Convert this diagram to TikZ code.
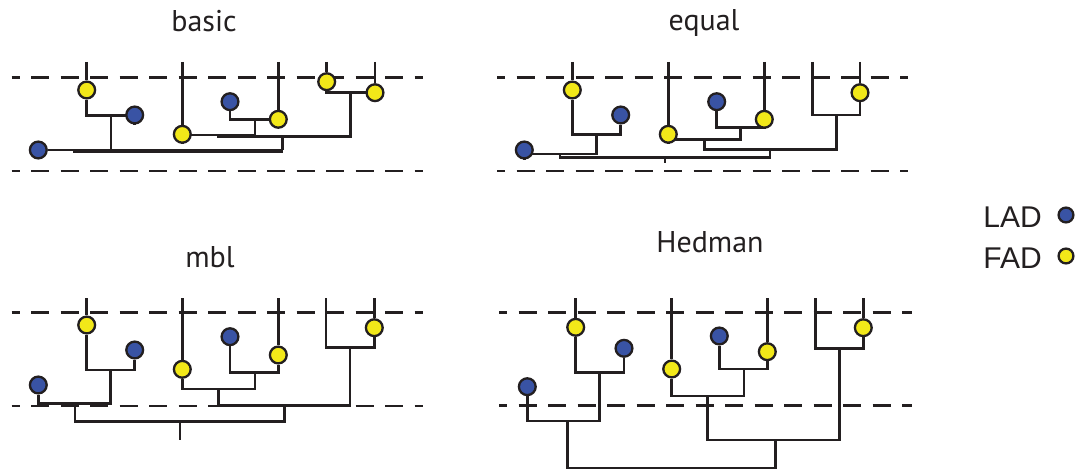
\documentclass[tikz,border=0pt]{standalone}
\usepackage{fontspec}
\newfontfamily\titlefont{PT Sans}
\newfontfamily\legendfont{Liberation Sans}
\usetikzlibrary{backgrounds}
\definecolor{ink}{RGB}{35,31,32}
\definecolor{ladblue}{RGB}{57,83,164}
\definecolor{fadyellow}{RGB}{242,232,25}
\begin{document}
\begin{tikzpicture}[x=1pt,y=-1pt,
  lad/.style={circle,draw=ink,fill=ladblue,line width=2.3pt,minimum size=16.8pt,inner sep=0pt},
  fad/.style={circle,draw=ink,fill=fadyellow,line width=2.3pt,minimum size=16.8pt,inner sep=0pt},
  legdot/.style={circle,draw=ink,line width=2.3pt,minimum size=14.8pt,inner sep=0pt},
  branch/.style={draw=ink,line width=2.8pt},
  guide/.style={draw=ink,line width=2.9pt,dash pattern=on 18pt off 11.5pt,dash phase=10pt},
  title/.style={anchor=base,inner sep=0pt,font=\titlefont\fontsize{30}{30}\selectfont,text=ink},
  legtext/.style={anchor=base east,inner sep=0pt,font=\legendfont\fontsize{30}{30}\selectfont,text=ink}]
\useasboundingbox (0,0) rectangle (1079,470);

% ---------- titles ----------
\node[title] (tA) at (204,31.7) {basic};
\node[title] (tB) at (704,31) {equal};
\node[title] (tC) at (210,267.3) {mbl};
\node[title] (tD) at (710,252.7) {Hedman};

% ---------- legend ----------
\node[legtext] (lLAD) at (1042,228) {LAD};
\node[legdot,fill=ladblue] (dLAD) at (1066,215) {};
\node[legtext] (lFAD) at (1042,269) {FAD};
\node[legdot,fill=fadyellow] (dFAD) at (1066,256) {};

% ---------- tree: basic ----------
\node[fad] (aY1) at (86.7,90) {};
\node[lad] (aB1) at (134.7,115) {};
\node[lad] (aB0) at (38.3,150) {};
\node[fad] (aY2) at (182.3,134.3) {};
\node[lad] (aB2) at (230,101.7) {};
\node[fad] (aY3) at (278.3,119.3) {};
\node[fad] (aY4) at (326.7,81.7) {};
\node[fad] (aY5) at (375,92.7) {};
\coordinate (aT1) at (86.7,62);
\coordinate (aT2) at (182.3,62);
\coordinate (aT3) at (278.3,62);
\coordinate (aT4) at (326.7,62);
\coordinate (aT5) at (375,62);
\coordinate (aN1) at (111,115.7);
\coordinate (aN0) at (73,151.2);
\coordinate (aN2) at (255,119.3);
\coordinate (aN3) at (218.3,135);
\coordinate (aN4) at (350.7,92.7);
\coordinate (aN5) at (282.7,136.7);
\coordinate (aR) at (282.7,150);

% ---------- tree: equal ----------
\node[fad] (bY1) at (572.3,90) {};
\node[lad] (bB1) at (620.7,115) {};
\node[lad] (bB0) at (524.3,150) {};
\node[fad] (bY2) at (668.3,134.3) {};
\node[lad] (bB2) at (716.7,101.7) {};
\node[fad] (bY3) at (764.3,119.3) {};
\node[fad] (bY5) at (860,92.7) {};
\coordinate (bT1) at (572.3,62);
\coordinate (bT2) at (668.3,62);
\coordinate (bT3) at (764.3,62);
\coordinate (bTL) at (812.7,62);
\coordinate (bT5) at (860,62);
\coordinate (bN1) at (596.7,134.3);
\coordinate (bN0) at (560,154);
\coordinate (bN2) at (740.7,127.7);
\coordinate (bN3) at (704.3,139.3);
\coordinate (bN4) at (836.7,115);
\coordinate (bN5) at (770,149.3);
\coordinate (bR) at (665,157.7);
\coordinate (bS) at (665,162.7);

% ---------- tree: mbl ----------
\node[fad] (cY1) at (86.7,325) {};
\node[lad] (cB1) at (134.7,350) {};
\node[lad] (cB0) at (38.3,385) {};
\node[fad] (cY2) at (182.3,369.3) {};
\node[lad] (cB2) at (230,336.7) {};
\node[fad] (cY3) at (278.3,355) {};
\node[fad] (cY5) at (374.3,327.7) {};
\coordinate (cT1) at (86.7,298.3);
\coordinate (cT2) at (182.3,298.3);
\coordinate (cT3) at (278.3,298.3);
\coordinate (cTL) at (326,298.3);
\coordinate (cT5) at (374.3,298.3);
\coordinate (cN1) at (110.7,370);
\coordinate (cN0) at (75,403.3);
\coordinate (cN2) at (255,372.7);
\coordinate (cN3) at (218.3,389);
\coordinate (cN4) at (350,347.3);
\coordinate (cN5) at (284.3,405.7);
\coordinate (cR) at (180,421.7);
\coordinate (cS) at (180,440);

% ---------- tree: Hedman ----------
\node[fad] (dY1) at (575.7,327.3) {};
\node[lad] (dB1) at (624,348.3) {};
\node[lad] (dB0) at (527.3,386.7) {};
\node[fad] (dY2) at (671.7,369) {};
\node[lad] (dB2) at (719.3,336) {};
\node[fad] (dY3) at (767.3,351.7) {};
\node[fad] (dY5) at (863.3,327.7) {};
\coordinate (dT1) at (575.7,298.3);
\coordinate (dT2) at (671.7,298.3);
\coordinate (dT3) at (767.3,298.3);
\coordinate (dTL) at (815.7,298.3);
\coordinate (dT5) at (863.3,298.3);
\coordinate (dN1) at (599.3,372.7);
\coordinate (dN0) at (567.3,421);
\coordinate (dN2) at (744,369);
\coordinate (dN3) at (707.7,396);
\coordinate (dN4) at (839.3,348.3);
\coordinate (dN5) at (775.7,440);
\coordinate (dR) at (671.5,468);

\begin{pgfonlayer}{background}
  % time slices
  \draw[guide] (11.7,77.7) -- (423,77.7);
  \draw[guide] (11.7,171) -- (423,171);
  \draw[guide] (497,77.7) -- (908,77.7);
  \draw[guide] (497,171) -- (908,171);
  \draw[guide] (11.7,312.7) -- (423,312.7);
  \draw[guide] (11.7,406) -- (423,406);
  \draw[guide] (499,312.3) -- (911.7,312.3);
  \draw[guide] (499,405.7) -- (911.7,405.7);

  % basic
  \path[branch] (aT1) -- (aY1) (aT2) -- (aY2) (aT3) -- (aY3) (aT4) -- (aY4) (aT5) -- (aY5);
  \path[branch] (aY1) |- (aN1) -| (aB1);
  \path[branch] (aB2) |- (aN2) -| (aY3);
  \path[branch] (aY2) |- (aN3) -| (aN2);
  \path[branch] (aY4) |- (aN4) -| (aY5);
  \path[branch] (aN3) |- (aN5) -| (aN4);
  \path[branch] (aB0) -- (aR);
  \path[branch] (aN0) -- (aN0 -| aR);
  \path[branch] (aN1) -- (aN1 |- aR);
  \path[branch] (aN5) -- (aR);

  % equal
  \path[branch] (bT1) -- (bY1) (bT2) -- (bY2) (bT3) -- (bY3) (bT5) -- (bY5);
  \path[branch] (bY1) |- (bN1) -| (bB1);
  \path[branch] (bB0) |- (bN0) -| (bN1);
  \path[branch] (bB2) |- (bN2) -| (bY3);
  \path[branch] (bY2) |- (bN3) -| (bN2);
  \path[branch] (bTL) |- (bN4) -| (bY5);
  \path[branch] (bN3) |- (bN5) -| (bN4);
  \path[branch] (bN0) |- (bR) -| (bN5);
  \path[branch] (bR) -- (bS);

  % mbl
  \path[branch] (cT1) -- (cY1) (cT2) -- (cY2) (cT3) -- (cY3) (cT5) -- (cY5);
  \path[branch] (cY1) |- (cN1) -| (cB1);
  \path[branch] (cB0) |- (cN0) -| (cN1);
  \path[branch] (cB2) |- (cN2) -| (cY3);
  \path[branch] (cY2) |- (cN3) -| (cN2);
  \path[branch] (cTL) |- (cN4) -| (cY5);
  \path[branch] (cN3) |- (cN5) -| (cN4);
  \path[branch] (cN0) |- (cR) -| (cN5);
  \path[branch] (cR) -- (cS);

  % Hedman
  \path[branch] (dT1) -- (dY1) (dT2) -- (dY2) (dT3) -- (dY3) (dT5) -- (dY5);
  \path[branch] (dY1) |- (dN1) -| (dB1);
  \path[branch] (dB0) |- (dN0) -| (dN1);
  \path[branch] (dB2) |- (dN2) -| (dY3);
  \path[branch] (dY2) |- (dN3) -| (dN2);
  \path[branch] (dTL) |- (dN4) -| (dY5);
  \path[branch] (dN3) |- (dN5) -| (dN4);
  \path[branch] (dN0) |- (dR) -| (dN5);
\end{pgfonlayer}
\end{tikzpicture}
\end{document}
